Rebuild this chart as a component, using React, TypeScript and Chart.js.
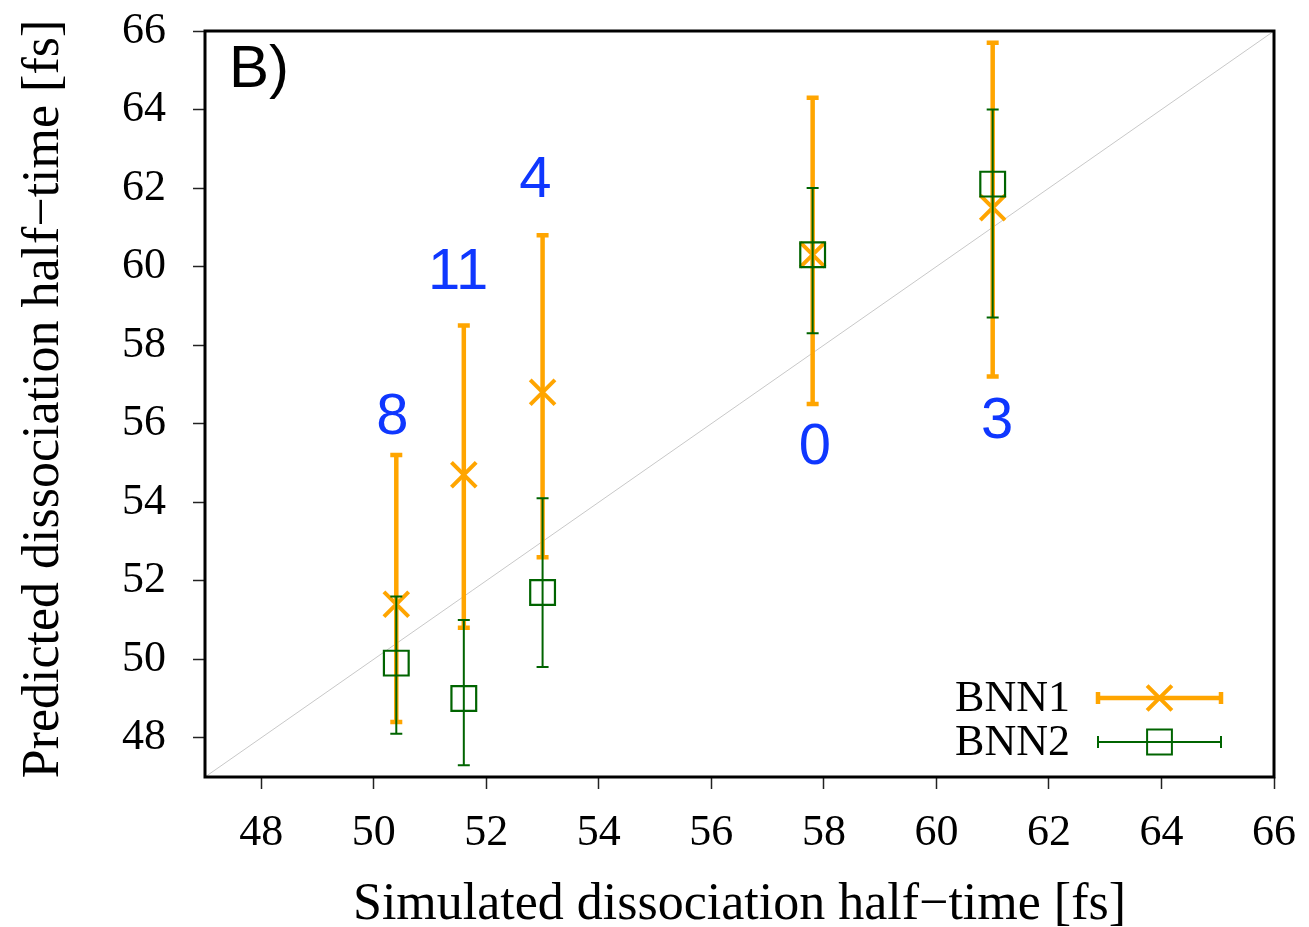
import React, { useEffect, useRef } from "react";
import { Chart, registerables } from "chart.js";

Chart.register(...registerables);

// Simulated half-times (x) shared by both networks
const simulated = [50.4, 51.6, 53.0, 57.8, 61.0];

// BNN1 predictions with lower / upper error limits
const bnn1 = [51.4, 54.7, 56.8, 60.3, 61.5];
const bnn1Low = [48.4, 50.8, 52.6, 56.5, 57.2];
const bnn1High = [55.2, 58.5, 60.8, 64.3, 65.7];

// BNN2 predictions with lower / upper error limits
const bnn2 = [49.9, 49.0, 51.7, 60.3, 62.1];
const bnn2Low = [48.1, 47.3, 49.8, 58.3, 58.7];
const bnn2High = [51.6, 51.0, 54.1, 62.0, 64.0];

// Sample identifiers written next to each point, with their anchor in data units
const sampleIds = ["8", "11", "4", "0", "3"];
const sampleIdX = [50.33, 51.5, 52.87, 57.84, 61.08];
const sampleIdY = [56.15, 59.84, 62.18, 55.37, 56.03];

// Axis range and ticks
const axisRange = [47, 66];
const xTicks = [48, 50, 52, 54, 56, 58, 60, 62, 64, 66];
const yTicks = [48, 50, 52, 54, 56, 58, 60, 62, 64, 66];

const ORANGE = "#ffa500";
const GREEN = "#006400";
const ID_BLUE = "rgb(15,55,255)";
const SERIF = "'Liberation Serif', 'Times New Roman', serif";
const SANS = "'Liberation Sans', Arial, sans-serif";

type Bars = { low: number[]; high: number[]; color: string; width: number; cap: number };

const errorBars: Record<number, Bars> = {
  1: { low: bnn1Low, high: bnn1High, color: ORANGE, width: 4.5, cap: 6 },
  2: { low: bnn2Low, high: bnn2High, color: GREEN, width: 2, cap: 6 },
};

const errorBarPlugin = {
  id: "errorBars",
  beforeDatasetDraw(chart: any, args: any) {
    const bars = errorBars[args.index];
    if (!bars) return;
    const { ctx, scales } = chart;
    const xs = scales.x;
    const ys = scales.y;
    ctx.save();
    ctx.strokeStyle = bars.color;
    ctx.lineWidth = bars.width;
    ctx.lineCap = "butt";
    simulated.forEach((sx, i) => {
      const px = xs.getPixelForValue(sx);
      const top = ys.getPixelForValue(bars.high[i]);
      const bot = ys.getPixelForValue(bars.low[i]);
      ctx.beginPath();
      ctx.moveTo(px, top);
      ctx.lineTo(px, bot);
      ctx.moveTo(px - bars.cap, top);
      ctx.lineTo(px + bars.cap, top);
      ctx.moveTo(px - bars.cap, bot);
      ctx.lineTo(px + bars.cap, bot);
      ctx.stroke();
    });
    ctx.restore();
  },
};

const decorPlugin = {
  id: "decor",
  afterDraw(chart: any) {
    const { ctx, chartArea, scales } = chart;
    const { left, right, top, bottom } = chartArea;
    ctx.save();

    // frame
    ctx.strokeStyle = "#000";
    ctx.lineWidth = 3;
    ctx.strokeRect(left, top, right - left, bottom - top);

    // panel letter
    ctx.fillStyle = "#000";
    ctx.font = `60px ${SANS}`;
    ctx.textAlign = "left";
    ctx.textBaseline = "alphabetic";
    ctx.fillText("B)", left + 24, top + 56);

    // sample identifiers
    ctx.fillStyle = ID_BLUE;
    ctx.font = `58px ${SANS}`;
    ctx.textAlign = "center";
    ctx.textBaseline = "middle";
    sampleIds.forEach((id, i) => {
      ctx.fillText(
        id,
        scales.x.getPixelForValue(sampleIdX[i]),
        scales.y.getPixelForValue(sampleIdY[i])
      );
    });

    // axis titles
    ctx.fillStyle = "#000";
    ctx.font = `52px ${SERIF}`;
    ctx.textAlign = "center";
    ctx.textBaseline = "alphabetic";
    ctx.fillText("Simulated dissociation half\u2212time [fs]", (left + right) / 2, bottom + 142);
    ctx.save();
    ctx.translate(58, (top + bottom) / 2 - 5);
    ctx.rotate(-Math.PI / 2);
    ctx.fillText("Predicted dissociation half\u2212time [fs]", 0, 0);
    ctx.restore();

    // legend
    const entries = [
      { label: "BNN1", color: ORANGE, width: 4.5, style: "cross", y: bottom - 79 },
      { label: "BNN2", color: GREEN, width: 2, style: "rect", y: bottom - 35 },
    ];
    const x0 = right - 176;
    const x1 = right - 53;
    const xm = (x0 + x1) / 2;
    entries.forEach((e) => {
      ctx.fillStyle = "#000";
      ctx.font = `44px ${SERIF}`;
      ctx.textAlign = "right";
      ctx.textBaseline = "middle";
      ctx.fillText(e.label, right - 204, e.y + 1);

      ctx.strokeStyle = e.color;
      ctx.lineWidth = e.width;
      ctx.beginPath();
      ctx.moveTo(x0, e.y);
      ctx.lineTo(x1, e.y);
      ctx.moveTo(x0, e.y - 6);
      ctx.lineTo(x0, e.y + 6);
      ctx.moveTo(x1, e.y - 6);
      ctx.lineTo(x1, e.y + 6);
      ctx.stroke();

      ctx.beginPath();
      if (e.style === "cross") {
        ctx.lineWidth = 4;
        const h = 12.4;
        ctx.moveTo(xm - h, e.y - h);
        ctx.lineTo(xm + h, e.y + h);
        ctx.moveTo(xm - h, e.y + h);
        ctx.lineTo(xm + h, e.y - h);
      } else {
        ctx.lineWidth = 2;
        ctx.rect(xm - 12.4, e.y - 12.4, 24.8, 24.8);
      }
      ctx.stroke();
    });

    ctx.restore();
  },
};

export default function App() {
  const canvasRef = useRef<HTMLCanvasElement | null>(null);

  useEffect(() => {
    const canvas = canvasRef.current;
    if (!canvas) return;

    const chart = new Chart(canvas, {
      type: "scatter",
      data: {
        datasets: [
          {
            label: "diagonal",
            data: axisRange.map((v) => ({ x: v, y: v })),
            showLine: true,
            borderColor: "#c8c8c8",
            borderWidth: 1,
            pointRadius: 0,
            order: 3,
          },
          {
            label: "BNN1",
            data: simulated.map((x, i) => ({ x, y: bnn1[i] })),
            pointStyle: "crossRot",
            pointRadius: 17.5,
            borderColor: ORANGE,
            backgroundColor: ORANGE,
            borderWidth: 4,
            order: 2,
          },
          {
            label: "BNN2",
            data: simulated.map((x, i) => ({ x, y: bnn2[i] })),
            pointStyle: "rect",
            pointRadius: 17.5,
            borderColor: GREEN,
            backgroundColor: "rgba(0,0,0,0)",
            borderWidth: 2.2,
            order: 1,
          },
        ],
      },
      options: {
        responsive: false,
        animation: false,
        events: [],
        layout: { padding: { top: 31, right: 35, left: 0, bottom: 0 } },
        plugins: {
          legend: { display: false },
          tooltip: { enabled: false },
          title: { display: false },
        },
        scales: {
          x: {
            type: "linear",
            min: axisRange[0],
            max: axisRange[1],
            afterBuildTicks: (s: any) => {
              s.ticks = xTicks.map((v) => ({ value: v }));
            },
            afterFit: (s: any) => {
              s.height = 150;
              s.paddingLeft = 0;
              s.paddingRight = 0;
            },
            border: { display: false },
            grid: {
              drawOnChartArea: false,
              drawTicks: true,
              tickLength: 12,
              tickWidth: 1.5,
              tickColor: "#222",
            },
            ticks: {
              color: "#000",
              padding: 18,
              maxRotation: 0,
              autoSkip: false,
              font: { family: SERIF, size: 44 },
            },
          },
          y: {
            type: "linear",
            min: axisRange[0],
            max: axisRange[1],
            afterBuildTicks: (s: any) => {
              s.ticks = yTicks.map((v) => ({ value: v }));
            },
            afterFit: (s: any) => {
              s.width = 205;
              s.paddingTop = 0;
              s.paddingBottom = 0;
            },
            border: { display: false },
            grid: {
              drawOnChartArea: false,
              drawTicks: true,
              tickLength: 12,
              tickWidth: 1.5,
              tickColor: "#222",
            },
            ticks: {
              color: "#000",
              padding: 27,
              autoSkip: false,
              font: { family: SERIF, size: 44 },
            },
          },
        },
      },
      plugins: [errorBarPlugin, decorPlugin],
    } as any);

    return () => chart.destroy();
  }, []);

  return (
    <div style={{ position: "absolute", left: 0, top: 0, width: 1309, height: 927, background: "#fff" }}>
      <canvas ref={canvasRef} width={1309} height={927} style={{ display: "block" }} />
    </div>
  );
}
